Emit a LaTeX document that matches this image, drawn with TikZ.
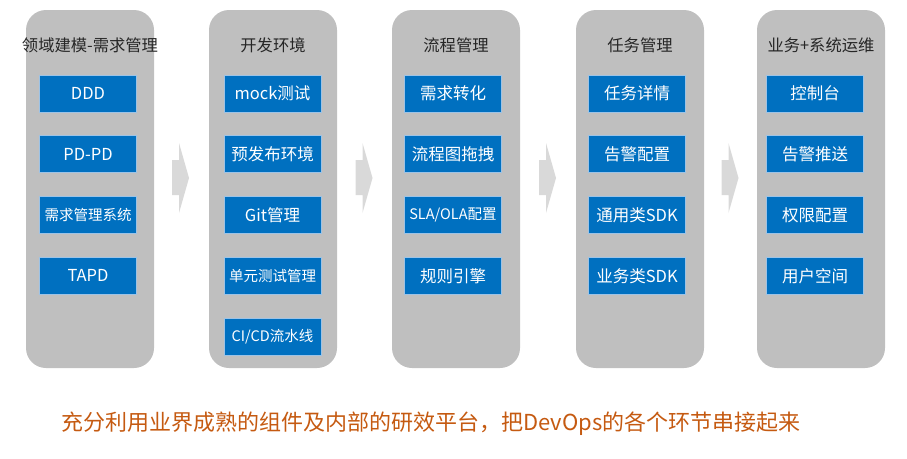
\documentclass[tikz,border=0pt]{standalone}
\usepackage{fontspec}
\setmainfont{Noto Sans CJK SC}
\usetikzlibrary{positioning}
\definecolor{colgray}{HTML}{BFBFBF}
\definecolor{chevgray}{HTML}{D9D9D9}
\definecolor{itemblue}{HTML}{0070C0}
\definecolor{itemedge}{HTML}{9DC3E6}
\definecolor{titlegray}{HTML}{262626}
\definecolor{noteorange}{HTML}{C55A11}
\newcommand\itemsmall{\fontsize{14.5}{17}\selectfont}
\begin{document}
\begin{tikzpicture}[x=1pt,y=-1pt,
  column/.style={fill=colgray,rounded corners=20pt,minimum width=128pt,minimum height=358pt,inner sep=0pt},
  title/.style={text=titlegray,font=\fontsize{16.3}{19}\selectfont},
  item/.style={fill=itemblue,draw=itemedge,line width=.8pt,minimum width=97pt,minimum height=37pt,inner sep=0pt,text=white,font=\fontsize{16.5}{19}\selectfont},
  chev/.style={fill=chevgray}]
\useasboundingbox (0,0) rectangle (907,458);
% stages
\foreach \x [count=\i] in {90,273,456,640,821}
  \node[column] (col\i) at (\x,189) {};
\node[title] (t1) at (90,45) {领域建模-需求管理};
\node[title] (t2) at (273,45) {开发环境};
\node[title] (t3) at (456,45) {流程管理};
\node[title] (t4) at (640,45) {任务管理};
\node[title] (t5) at (821,45) {业务+系统运维};
% tools of each stage
\foreach \t [count=\j] in {DDD,PD-PD,{\itemsmall 需求管理系统},TAPD}
  \node[item] (a\j) at (88,32.75+60.75*\j) {\t};
\foreach \t [count=\j] in {mock测试,预发布环境,Git管理,{\itemsmall 单元测试管理},{\itemsmall CI/CD流水线}}
  \node[item] (b\j) at (272.5,32.75+60.75*\j) {\t};
\foreach \t [count=\j] in {需求转化,流程图拖拽,{\itemsmall SLA/OLA配置},规则引擎}
  \node[item] (c\j) at (453,32.75+60.75*\j) {\t};
\foreach \t [count=\j] in {任务详情,告警配置,通用类SDK,业务类SDK}
  \node[item] (d\j) at (637,32.75+60.75*\j) {\t};
\foreach \t [count=\j] in {控制台,告警推送,权限配置,用户空间}
  \node[item] (e\j) at (815,32.75+60.75*\j) {\t};
% chevrons between stages
\foreach \c in {181,364.5,548,730.5}
  \fill[chev] (\c-9,160) -- (\c-2,160) -- (\c-2,143) -- (\c+8,178) -- (\c-2,213) -- (\c-2,195) -- (\c-9,195) -- cycle;
\node[text=noteorange,font=\fontsize{22}{26}\selectfont] (note) at (431,424) {充分利用业界成熟的组件及内部的研效平台，把DevOps的各个环节串接起来};
\end{tikzpicture}
\end{document}
